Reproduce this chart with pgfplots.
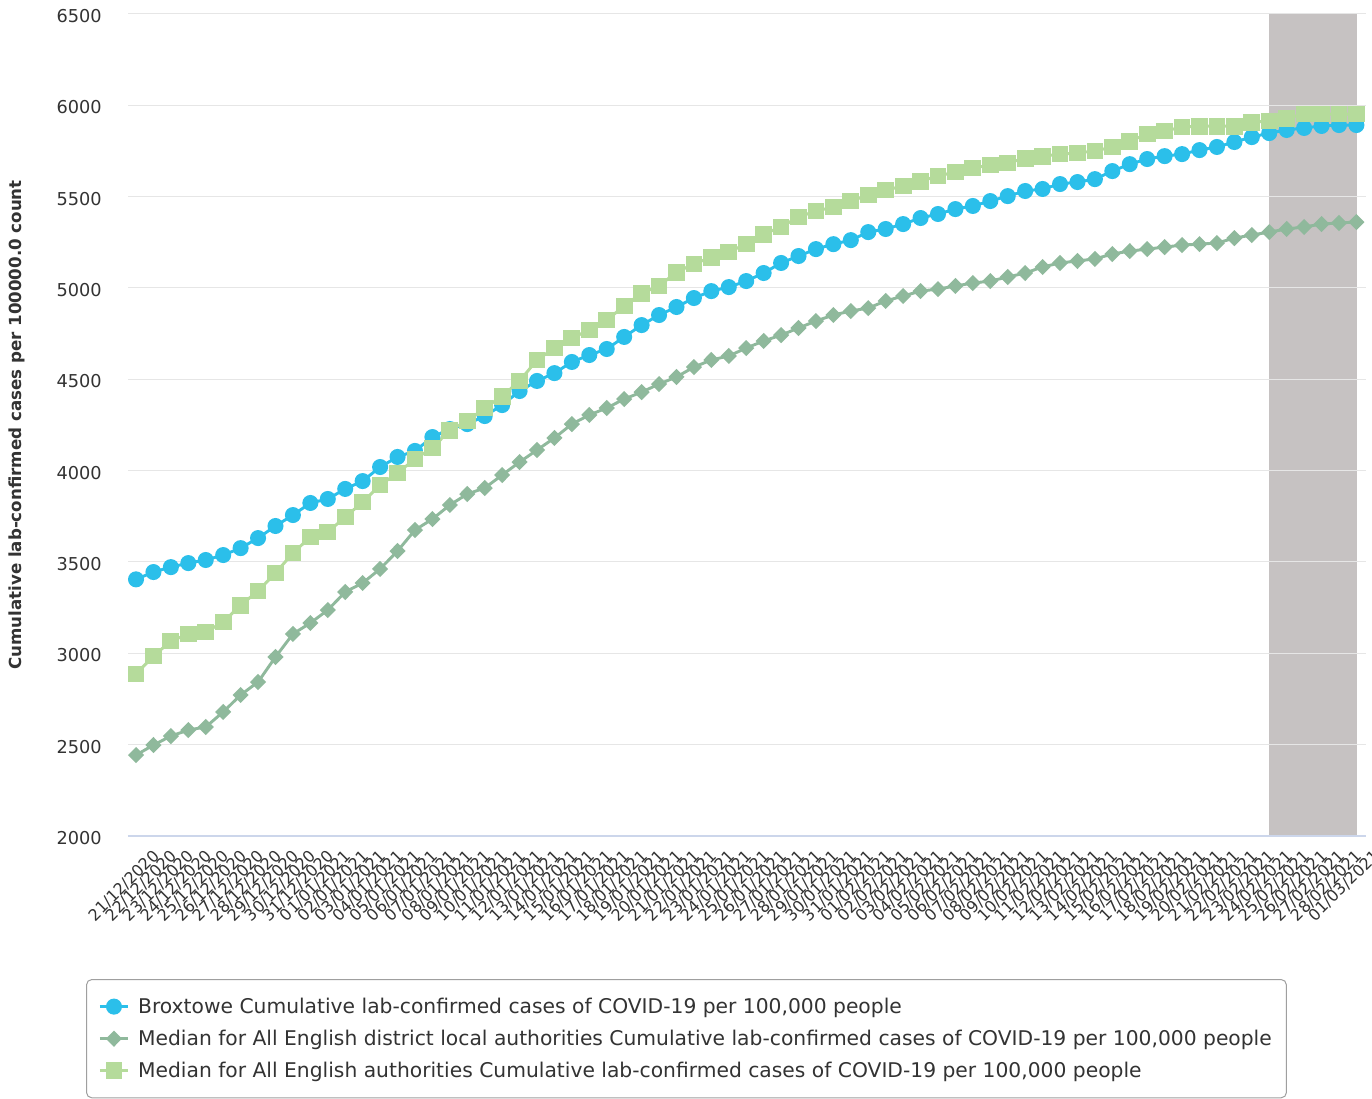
\documentclass[border=0pt]{standalone}
\usepackage{fontspec}
\setmainfont{DejaVu Sans}
\usepackage{pgfplots}
\usepackage{pgfplotstable}
\pgfplotsset{compat=1.18}

\definecolor{brox}{HTML}{2BBFEA}
\definecolor{distg}{HTML}{8FB99C}
\definecolor{engg}{HTML}{B5DB9B}
\definecolor{bandgray}{HTML}{C6C2C2}
\definecolor{gridc}{HTML}{E6E6E6}
\definecolor{axisc}{HTML}{CCD6EB}
\definecolor{txt}{HTML}{333333}

% i = day index from 21/12/2020
\pgfplotstableread{
i date brox dist eng
0 21/12/2020 3405 2443 2887
1 22/12/2020 3445 2498 2985
2 23/12/2020 3472 2547 3067
3 24/12/2020 3494 2580 3106
4 25/12/2020 3511 2597 3117
5 26/12/2020 3538 2679 3171
6 27/12/2020 3576 2772 3264
7 28/12/2020 3631 2843 3341
8 29/12/2020 3697 2980 3440
9 30/12/2020 3757 3106 3549
10 31/12/2020 3823 3166 3637
11 01/01/2021 3845 3237 3664
12 02/01/2021 3900 3336 3746
13 03/01/2021 3943 3385 3828
14 04/01/2021 4020 3462 3921
15 05/01/2021 4075 3560 3987
16 06/01/2021 4108 3675 4064
17 07/01/2021 4184 3735 4124
18 08/01/2021 4228 3812 4222
19 09/01/2021 4255 3872 4272
20 10/01/2021 4299 3905 4343
21 11/01/2021 4359 3976 4408
22 12/01/2021 4436 4047 4491
23 13/01/2021 4491 4113 4606
24 14/01/2021 4534 4179 4671
25 15/01/2021 4595 4255 4726
26 16/01/2021 4633 4305 4770
27 17/01/2021 4666 4343 4825
28 18/01/2021 4732 4392 4901
29 19/01/2021 4797 4430 4972
30 20/01/2021 4852 4474 5011
31 21/01/2021 4896 4513 5087
32 22/01/2021 4945 4567 5131
33 23/01/2021 4983 4606 5169
34 24/01/2021 5005 4628 5197
35 25/01/2021 5038 4671 5241
36 26/01/2021 5082 4710 5295
37 27/01/2021 5137 4742 5334
38 28/01/2021 5175 4781 5389
39 29/01/2021 5213 4819 5421
40 30/01/2021 5240 4852 5443
41 31/01/2021 5262 4874 5476
42 01/02/2021 5306 4890 5509
43 02/02/2021 5323 4929 5536
44 03/02/2021 5350 4956 5558
45 04/02/2021 5383 4983 5585
46 05/02/2021 5405 4994 5613
47 06/02/2021 5432 5011 5635
48 07/02/2021 5449 5027 5657
49 08/02/2021 5476 5038 5673
50 09/02/2021 5503 5060 5684
51 10/02/2021 5531 5082 5711
52 11/02/2021 5542 5115 5722
53 12/02/2021 5569 5137 5733
54 13/02/2021 5580 5148 5739
55 14/02/2021 5596 5159 5750
56 15/02/2021 5640 5186 5772
57 16/02/2021 5678 5202 5804
58 17/02/2021 5706 5213 5843
59 18/02/2021 5722 5224 5859
60 19/02/2021 5733 5235 5881
61 20/02/2021 5755 5240 5886
62 21/02/2021 5772 5246 5886
63 22/02/2021 5799 5273 5886
64 23/02/2021 5826 5290 5908
65 24/02/2021 5848 5306 5914
66 25/02/2021 5865 5323 5930
67 26/02/2021 5876 5334 5952
68 27/02/2021 5887 5350 5952
69 28/02/2021 5892 5356 5952
70 01/03/2021 5892 5361 5952
}\data

\begin{document}
\begin{tikzpicture}
\begin{axis}[
    set layers,
    at={(0,0)}, anchor=south west,
    scale only axis,
    width=928.5pt, height=616.5pt,
    xmin=-0.46, xmax=70.55,
    ymin=2000, ymax=6500,
    xtick={0,...,70},
    xticklabels from table={\data}{date},
    ytick={2000,2500,...,6500},
    scaled y ticks=false,
    /pgf/number format/1000 sep={},
    /pgf/number format/assume math mode=true,
    major tick length=0pt,
    ymajorgrids,
    grid style={gridc, line width=0.75pt},
    axis x line*=bottom,
    axis y line*=left,
    x axis line style={axisc, line width=1pt, -},
    y axis line style={draw=none},
    tick label style={text=txt},
    yticklabel style={font=\fontsize{13.3}{16}\selectfont, anchor=east, inner sep=0pt, xshift=-19.5pt, yshift=-1.5pt},
    xticklabel style={font=\fontsize{12}{14}\selectfont, rotate=45, anchor=east, inner sep=0pt, yshift=-20pt, xshift=2pt},
    ylabel={Cumulative lab-confirmed cases per 100000.0 count},
    ylabel style={at={(axis description cs:-0.0897,0.5)}, anchor=center, font=\bfseries\fontsize{12.5}{15}\selectfont, text=txt},
    legend style={at={(-0.0339,-0.174)}, anchor=north west,
        draw=gray!75, rounded corners=4pt, line width=0.75pt,
        font=\fontsize{15.2}{18}\selectfont, text=txt,
        cells={anchor=west}, inner xsep=9pt, inner ysep=11.8pt, row sep=7pt,
        /tikz/every odd column/.append style={column sep=4.5pt}},
    legend image code/.code={\draw[mark repeat=2,mark phase=2] plot coordinates {(0pt,0pt) (10.5pt,0pt) (21pt,0pt)};},
    clip=false,
]
\addplot[fill=bandgray, draw=none, forget plot, on layer=axis background]
    coordinates {(64.97,2000) (64.97,6500) (70.05,6500) (70.05,2000)} -- cycle;
\addplot[brox, line width=2.2pt, mark=*, mark size=4.9pt, mark options={draw=none, fill=brox}]
    table[x=i, y=brox] {\data};
\addplot[distg, line width=2.2pt, mark=diamond*, mark size=4.5pt, mark options={draw=none, fill=distg, xscale=1.33}]
    table[x=i, y=dist] {\data};
\addplot[engg, line width=2.2pt, mark=square*, mark size=5.2pt, mark options={draw=none, fill=engg}]
    table[x=i, y=eng] {\data};
\legend{{Broxtowe Cumulative lab-confirmed cases of COVID-19 per 100,000 people},
{Median for All English district local authorities Cumulative lab-confirmed cases of COVID-19 per 100,000 people},
{Median for All English authorities Cumulative lab-confirmed cases of COVID-19 per 100,000 people}}
\end{axis}
\pgfresetboundingbox
\path[use as bounding box] (-96pt,-197.25pt) rectangle (933pt,627pt);
\end{tikzpicture}
\end{document}
